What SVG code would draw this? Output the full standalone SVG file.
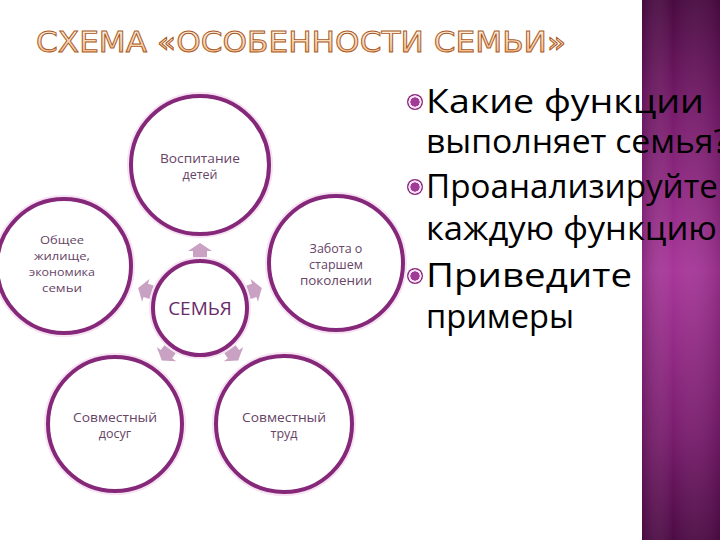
<svg xmlns="http://www.w3.org/2000/svg" width="720" height="540" viewBox="0 0 720 540">
  <defs>
    <linearGradient id="panelV" x1="0" y1="0" x2="0" y2="1">
      <stop offset="0" stop-color="#480a40"/>
      <stop offset="0.2" stop-color="#761b6a"/>
      <stop offset="0.5" stop-color="#a8379a"/>
      <stop offset="0.8" stop-color="#7a1d6e"/>
      <stop offset="1" stop-color="#4c0b44"/>
    </linearGradient>
    <linearGradient id="panelH" x1="0" y1="0" x2="1" y2="0">
      <stop offset="0" stop-color="#3a0634" stop-opacity="0.25"/>
      <stop offset="0.4" stop-color="#ffffff" stop-opacity="0"/>
      <stop offset="1" stop-color="#3a0634" stop-opacity="0.2"/>
    </linearGradient>
    <linearGradient id="titleFill" x1="0" y1="0" x2="0" y2="1">
      <stop offset="0" stop-color="#fff7ee"/>
      <stop offset="0.6" stop-color="#f8d0a8"/>
      <stop offset="1" stop-color="#f0a86c"/>
    </linearGradient>
    <radialGradient id="bullet" cx="0.5" cy="0.5" r="0.5">
      <stop offset="0" stop-color="#a03c96"/>
      <stop offset="0.55" stop-color="#a03c96"/>
      <stop offset="0.6" stop-color="#f6e4f3"/>
      <stop offset="0.8" stop-color="#f6e4f3"/>
      <stop offset="0.85" stop-color="#8e2a82"/>
      <stop offset="1" stop-color="#8e2a82"/>
    </radialGradient>
  </defs>
  <style>
    .ring { fill: #ffffff; stroke: #86287a; stroke-width: 4; }
    .halo { fill: none; stroke: #f6e2f3; stroke-width: 8; }
    .lbl { font-family: "Open Sans", "Liberation Sans", sans-serif; font-size: 12.5px; fill: #664466; text-anchor: middle; }
    .lbl.sm { font-size: 11.5px; }
    .core { font-family: "Open Sans", "Liberation Sans", sans-serif; font-size: 19px; fill: #6a2a68; text-anchor: middle; }
    .arrow { fill: #c9a2c3; }
    .side { font-family: "Open Sans", "Liberation Sans", sans-serif; font-size: 32px; fill: #000000; }
    .title { font-family: "DejaVu Sans", "Liberation Sans", sans-serif; font-size: 28px; fill: url(#titleFill); stroke: #a85a26; stroke-width: 0.9; }
  </style>

  <rect x="0" y="0" width="720" height="540" fill="#ffffff"/>

  <!-- right panel -->
  <rect x="642" y="0" width="78" height="540" fill="url(#panelV)"/>
  <rect x="642" y="0" width="78" height="540" fill="url(#panelH)"/>

  <!-- title -->
  <text class="title" x="36" y="52" textLength="530" lengthAdjust="spacingAndGlyphs">СХЕМА «ОСОБЕННОСТИ СЕМЬИ»</text>

  <!-- connectors (block arrows radiating from centre) -->
  <g id="connectors">
    <path class="arrow" transform="rotate(0 200 308)" d="M200,243 L212,251 L207,251 L207,257 L193,257 L193,251 L188,251 Z"/>
    <path class="arrow" transform="rotate(72 200 308)" d="M200,243 L212,251 L207,251 L207,257 L193,257 L193,251 L188,251 Z"/>
    <path class="arrow" transform="rotate(144 200 308)" d="M200,243 L212,251 L207,251 L207,257 L193,257 L193,251 L188,251 Z"/>
    <path class="arrow" transform="rotate(-144 200 308)" d="M200,243 L212,251 L207,251 L207,257 L193,257 L193,251 L188,251 Z"/>
    <path class="arrow" transform="rotate(-72 200 308)" d="M200,243 L212,251 L207,251 L207,257 L193,257 L193,251 L188,251 Z"/>
  </g>

  <g id="node-top">
    <circle class="halo" cx="200" cy="165" r="69"/>
    <circle class="ring" cx="200" cy="165" r="69"/>
    <text class="lbl" x="200" y="163" textLength="80" lengthAdjust="spacingAndGlyphs">Воспитание</text>
    <text class="lbl" x="200" y="179">детей</text>
  </g>

  <g id="node-right">
    <circle class="halo" cx="336" cy="263" r="67"/>
    <circle class="ring" cx="336" cy="263" r="67"/>
    <text class="lbl" x="336" y="253">Забота о</text>
    <text class="lbl" x="336" y="269">старшем</text>
    <text class="lbl" x="336" y="285" textLength="72" lengthAdjust="spacingAndGlyphs">поколении</text>
  </g>

  <g id="node-left">
    <circle class="halo" cx="64" cy="266" r="67"/>
    <circle class="ring" cx="64" cy="266" r="67"/>
    <text class="lbl sm" x="62" y="244" textLength="44" lengthAdjust="spacingAndGlyphs">Общее</text>
    <text class="lbl sm" x="62" y="260" textLength="56" lengthAdjust="spacingAndGlyphs">жилище,</text>
    <text class="lbl sm" x="62" y="276" textLength="66" lengthAdjust="spacingAndGlyphs">экономика</text>
    <text class="lbl sm" x="62" y="292" textLength="40" lengthAdjust="spacingAndGlyphs">семьи</text>
  </g>

  <g id="node-bottom-left">
    <circle class="halo" cx="115" cy="424" r="67"/>
    <circle class="ring" cx="115" cy="424" r="67"/>
    <text class="lbl" x="115" y="422" textLength="84" lengthAdjust="spacingAndGlyphs">Совместный</text>
    <text class="lbl" x="115" y="438">досуг</text>
  </g>

  <g id="node-bottom-right">
    <circle class="halo" cx="284" cy="424" r="68"/>
    <circle class="ring" cx="284" cy="424" r="68"/>
    <text class="lbl" x="284" y="422" textLength="84" lengthAdjust="spacingAndGlyphs">Совместный</text>
    <text class="lbl" x="284" y="438">труд</text>
  </g>

  <g id="node-center">
    <circle class="halo" cx="200" cy="308" r="47"/>
    <circle class="ring" cx="200" cy="308" r="47"/>
    <text class="core" x="200" y="315">СЕМЬЯ</text>
  </g>

  <!-- bullet list -->
  <g id="questions">
    <circle cx="415" cy="102" r="8" fill="url(#bullet)"/>
    <circle cx="415" cy="187" r="8" fill="url(#bullet)"/>
    <circle cx="415" cy="276" r="8" fill="url(#bullet)"/>
    <text class="side" x="426" y="113" textLength="278" lengthAdjust="spacingAndGlyphs">Какие функции</text>
    <text class="side" x="426" y="153" textLength="302" lengthAdjust="spacingAndGlyphs">выполняет семья?</text>
    <text class="side" x="426" y="198" textLength="292" lengthAdjust="spacingAndGlyphs">Проанализируйте</text>
    <text class="side" x="426" y="240" textLength="291" lengthAdjust="spacingAndGlyphs">каждую функцию</text>
    <text class="side" x="426" y="287" textLength="206" lengthAdjust="spacingAndGlyphs">Приведите</text>
    <text class="side" x="426" y="328" textLength="148" lengthAdjust="spacingAndGlyphs">примеры</text>
  </g>
</svg>
